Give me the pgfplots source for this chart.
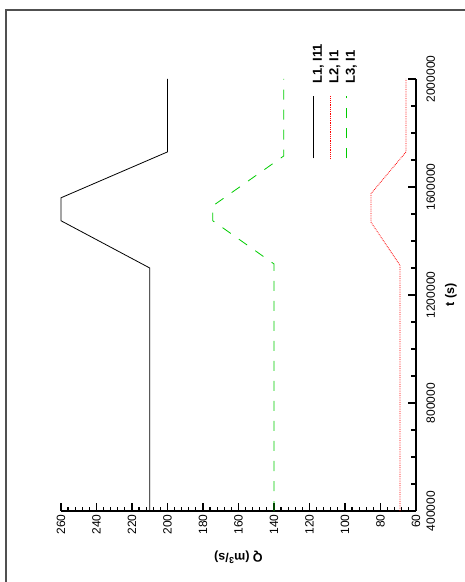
\documentclass[border=0pt]{standalone}
\usepackage{fontspec}
\setmainfont{Liberation Sans}
\usepackage{pgfplots}
\pgfplotsset{compat=1.18}

\definecolor{framegray}{RGB}{80,80,80}
\definecolor{lgreen}{RGB}{0,204,0}
\definecolor{lred}{RGB}{255,0,0}

\begin{document}
\begin{tikzpicture}
% the chart is drawn upright and then turned a quarter turn
\begin{scope}[rotate=90, transform shape]
\path[use as bounding box] (0,0) rectangle (582pt,465pt);
\draw[framegray, line width=1.5pt] (0,459pt) -- (572pt,459pt) -- (572pt,0);
\begin{axis}[%
at={(71pt,49pt)},
anchor=south west,
width=432pt,
height=355pt,
scale only axis,
xmin=400000,
xmax=2000000,
ymin=60,
ymax=260,
clip=false,
axis lines*=left,
axis line style={-, line width=1.6pt},
tick align=inside,
xtick={400000,800000,1200000,1600000,2000000},
minor x tick num=3,
ytick={60,80,...,260},
minor y tick num=4,
major tick length=8pt,
minor tick length=4.5pt,
every tick/.style={black, line width=1.2pt},
scaled x ticks=false,
/pgf/number format/assume math mode=true,
xticklabel style={/pgf/number format/fixed, /pgf/number format/1000 sep={}, yshift=-7pt},
tick label style={font=\fontsize{12}{14}\selectfont},
xlabel={t (s)},
ylabel={Q (m\textsuperscript{3}/s)},
every axis x label/.style={at={(axis description cs:0.5,0)}, anchor=center, yshift=-35pt, font=\bfseries\fontsize{12.5}{15}\selectfont},
every axis y label/.style={at={(axis description cs:0,0.5)}, anchor=center, rotate=90, yshift=46pt, font=\bfseries\fontsize{12.5}{15}\selectfont},
legend style={at={(0.815,0.294)}, anchor=north west, draw=none, fill=none, inner sep=0pt,
  font=\bfseries\fontsize{13}{15}\selectfont, row sep=3.5pt, column sep=12pt,
  nodes={inner sep=0pt, text height=10pt, text depth=3pt}},
legend cell align=left,
legend image code/.code={\draw[#1] (0pt,4.6pt) -- (62pt,4.6pt);}
]
\addplot [color=black, line width=0.8pt]
  coordinates {(400000,210) (1300000,210) (1475000,260) (1560000,260) (1730000,200) (2000000,200)};
\addlegendentry{L1, I11}
\addplot [color=lred, line width=0.8pt, densely dotted]
  coordinates {(400000,69) (1310000,69) (1470000,85.4) (1575000,85.4) (1730000,65.6) (2000000,65.6)};
\addlegendentry{L2, I1}
\addplot [color=lgreen, line width=0.8pt, dash pattern=on 10pt off 10pt]
  coordinates {(400000,140) (1315000,140) (1475000,174.5) (1530000,174.5) (1715000,134.5) (2000000,134.5)};
\addlegendentry{L3, I1}
\end{axis}
\end{scope}
\end{tikzpicture}
\end{document}
